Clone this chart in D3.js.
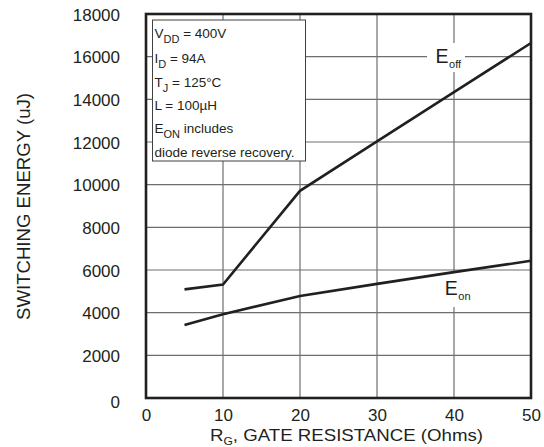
<!DOCTYPE html>
<html>
<head>
<meta charset="utf-8">
<script src="https://cdn.jsdelivr.net/npm/d3@7"></script>
<style>
  body { margin: 0; background: #fff; }
  text { font-family: "Liberation Sans", Arial, sans-serif; fill: #231f20; }
</style>
</head>
<body>
<div id="chart"></div>
<script>
// Data
var rg = [5, 10, 20, 30, 40, 50];
var eOff = [5090, 5320, 9710, 12030, 14340, 16640];
var eOn = [3420, 3930, 4780, 5350, 5900, 6430];
var xTicks = [0, 10, 20, 30, 40, 50];
var yTicks = [0, 2000, 4000, 6000, 8000, 10000, 12000, 14000, 16000, 18000];
var noteLines = [
  ["V", "DD", " = 400V"],
  ["I", "D", " = 94A"],
  ["T", "J", " = 125°C"],
  ["L = 100µH", "", ""],
  ["E", "ON", " includes"],
  ["diode reverse recovery.", "", ""]
];

var svgWidth = 544;
var svgHeight = 447;
var margin = { top: 14, right: 13, bottom: 49, left: 146 };
var width = svgWidth - margin.left - margin.right;
var height = svgHeight - margin.top - margin.bottom;

var svg = d3.select("#chart")
  .append("svg")
  .attr("width", svgWidth)
  .attr("height", svgHeight);

var chartGroup = svg.append("g")
  .attr("transform", `translate(${margin.left}, ${margin.top})`);

var x = d3.scaleLinear().domain([0, 50]).range([0, width]);
var y = d3.scaleLinear().domain([0, 18000]).range([height, 0]);

// grid
chartGroup.append("g").selectAll("line")
  .data(xTicks.slice(1, -1)).enter().append("line")
  .attr("x1", d => x(d)).attr("x2", d => x(d))
  .attr("y1", 0).attr("y2", height)
  .attr("stroke", "#6d6e71").attr("stroke-width", 1.2);

chartGroup.append("g").selectAll("line")
  .data(yTicks.slice(1, -1)).enter().append("line")
  .attr("x1", 0).attr("x2", width)
  .attr("y1", d => y(d)).attr("y2", d => y(d))
  .attr("stroke", "#6d6e71").attr("stroke-width", 1.2);

// axes (labels only)
var bottomAxis = d3.axisBottom(x).tickValues(xTicks).tickSize(0).tickPadding(11);
var leftAxis = d3.axisLeft(y).tickValues(yTicks).tickSize(0).tickPadding(26).tickFormat(d3.format("d"));

var gx = chartGroup.append("g")
  .attr("transform", `translate(0, ${height})`)
  .call(bottomAxis);
var gy = chartGroup.append("g").call(leftAxis);
[gx, gy].forEach(function(g) {
  g.select(".domain").remove();
  g.selectAll("text").style("font-size", "17px")
    .style("font-family", "'Liberation Sans', Arial, sans-serif").attr("fill", "#231f20");
});
gy.selectAll("text").attr("dy", "0.36em");
gy.selectAll(".tick").filter(d => d === 0).select("text").attr("dy", "0.55em");

// curve labels with white knock-out
function curveLabel(lx, ly, main, sub, box) {
  chartGroup.append("rect")
    .attr("x", box[0]).attr("y", box[1])
    .attr("width", box[2]).attr("height", box[3])
    .attr("fill", "#fff");
  var t = chartGroup.append("text")
    .attr("x", lx).attr("y", ly)
    .style("font-size", "19.5px");
  t.append("tspan").text(main);
  t.append("tspan").attr("dy", 5).attr("dx", 0.5).style("font-size", "11px").text(sub);
}
curveLabel(x(37.6), y(15690), "E", "off", [281, 29, 38, 29]);
curveLabel(x(38.8), y(4825), "E", "on", [296, 259, 26, 34]);

// lines
var line = d3.line().x((d, i) => x(rg[i])).y(d => y(d));
[eOff, eOn].forEach(function(s) {
  chartGroup.append("path")
    .attr("d", line(s))
    .attr("fill", "none")
    .attr("stroke", "#231f20")
    .attr("stroke-width", 2.6);
});

// frame
chartGroup.append("rect")
  .attr("x", 0).attr("y", 0)
  .attr("width", width).attr("height", height)
  .attr("fill", "none")
  .attr("stroke", "#231f20")
  .attr("stroke-width", 2.6);

// condition box
var box = chartGroup.append("g").attr("transform", "translate(6.5, 6)");
box.append("rect")
  .attr("width", 153).attr("height", 141)
  .attr("fill", "#fff")
  .attr("stroke", "#414042")
  .attr("stroke-width", 1);
var noteY = [18, 43, 67, 90, 113, 137];
noteLines.forEach(function(l, i) {
  var t = box.append("text")
    .attr("x", 2).attr("y", noteY[i])
    .style("font-size", "13.5px");
  t.append("tspan").text(l[0]);
  if (l[1]) {
    t.append("tspan").attr("dy", 5).style("font-size", "11px").text(l[1]);
    t.append("tspan").attr("dy", -5).text(l[2]);
  }
});

// axis titles
var xt = svg.append("text")
  .attr("x", 210)
  .attr("y", 441)
  .attr("textLength", 273)
  .attr("lengthAdjust", "spacingAndGlyphs")
  .style("font-size", "17px");
xt.append("tspan").text("R");
xt.append("tspan").attr("dy", 4).style("font-size", "11px").text("G");
xt.append("tspan").attr("dy", -4).text(", GATE RESISTANCE (Ohms)");

svg.append("text")
  .attr("transform", "rotate(-90)")
  .attr("x", -320)
  .attr("y", 30)
  .attr("textLength", 227)
  .attr("lengthAdjust", "spacingAndGlyphs")
  .style("font-size", "17.5px")
  .text("SWITCHING ENERGY (uJ)");
</script>
</body>
</html>
